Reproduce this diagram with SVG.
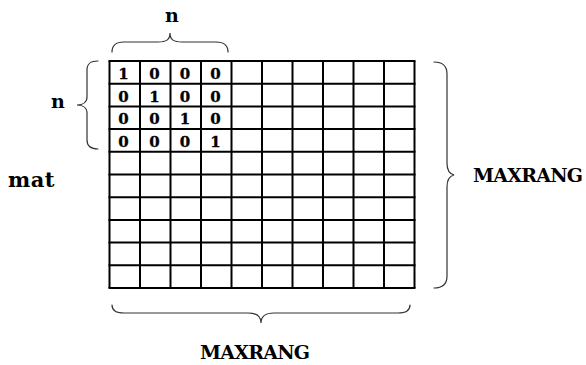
<svg xmlns="http://www.w3.org/2000/svg" width="586" height="365" viewBox="0 0 586 365">
  <style>
    .label { font-family: "DejaVu Serif", "Liberation Serif", serif; font-weight: bold; font-size: 19px; fill: #000; }
    .cell { font-family: "DejaVu Serif", "Liberation Serif", serif; font-weight: bold; font-size: 15px; fill: #000; stroke: #000; stroke-width: 0.3; text-anchor: middle; }
    .grid line { stroke: #000; stroke-width: 2; }
    .brace { fill: none; stroke: #333; stroke-width: 1.2; stroke-linecap: round; }
  </style>
  <rect width="586" height="365" fill="#fff"/>

  <!-- matrix grid: 10 x 10 cells -->
  <g id="matrix" class="grid">
    <line x1="109.5" y1="61" x2="109.5" y2="288"/>
    <line x1="140" y1="61" x2="140" y2="288"/>
    <line x1="170.5" y1="61" x2="170.5" y2="288"/>
    <line x1="201" y1="61" x2="201" y2="288"/>
    <line x1="231.5" y1="61" x2="231.5" y2="288"/>
    <line x1="262" y1="61" x2="262" y2="288"/>
    <line x1="292.5" y1="61" x2="292.5" y2="288"/>
    <line x1="323" y1="61" x2="323" y2="288"/>
    <line x1="353.5" y1="61" x2="353.5" y2="288"/>
    <line x1="384" y1="61" x2="384" y2="288"/>
    <line x1="414.5" y1="61" x2="414.5" y2="288"/>
    <line x1="108.5" y1="61" x2="415.5" y2="61"/>
    <line x1="108.5" y1="83.7" x2="415.5" y2="83.7"/>
    <line x1="108.5" y1="106.4" x2="415.5" y2="106.4"/>
    <line x1="108.5" y1="129.1" x2="415.5" y2="129.1"/>
    <line x1="108.5" y1="151.8" x2="415.5" y2="151.8"/>
    <line x1="108.5" y1="174.5" x2="415.5" y2="174.5"/>
    <line x1="108.5" y1="197.2" x2="415.5" y2="197.2"/>
    <line x1="108.5" y1="219.9" x2="415.5" y2="219.9"/>
    <line x1="108.5" y1="242.6" x2="415.5" y2="242.6"/>
    <line x1="108.5" y1="265.3" x2="415.5" y2="265.3"/>
    <line x1="108.5" y1="288" x2="415.5" y2="288"/>
  </g>

  <!-- identity block n x n -->
  <g id="identity">
    <text class="cell" x="123.5" y="79">1</text>
    <text class="cell" x="154.5" y="79">0</text>
    <text class="cell" x="185" y="79">0</text>
    <text class="cell" x="215.5" y="79">0</text>
    <text class="cell" x="123.5" y="101.7">0</text>
    <text class="cell" x="154.5" y="101.7">1</text>
    <text class="cell" x="185" y="101.7">0</text>
    <text class="cell" x="215.5" y="101.7">0</text>
    <text class="cell" x="123.5" y="124.4">0</text>
    <text class="cell" x="154.5" y="124.4">0</text>
    <text class="cell" x="185" y="124.4">1</text>
    <text class="cell" x="215.5" y="124.4">0</text>
    <text class="cell" x="123.5" y="147.1">0</text>
    <text class="cell" x="154.5" y="147.1">0</text>
    <text class="cell" x="185" y="147.1">0</text>
    <text class="cell" x="215.5" y="147.1">1</text>
  </g>

  <!-- braces -->
  <g id="braces">
    <path class="brace" d="M112,52 C112,45 116,42 124,42 L158,42 C166,42 170,40 170,33 C170,40 174,42 182,42 L216,42 C224,42 228,45 228,52"/>
    <path class="brace" d="M98,61 C91,61 87,63 87,70 L87,97 C87,102 83,105 77,105 C83,105 87,108 87,113 L87,140 C87,146 91,149 98,149"/>
    <path class="brace" d="M434,62 C442,62 447,65 447,74 L447,163 C447,170 450,174 454,175 C450,176 447,180 447,187 L447,276 C447,285 442,288 434,288"/>
    <path class="brace" d="M112,305 C112,311 116,313 124,313 L248,313 C256,313 261,316 261,323 C261,316 266,313 274,313 L398,313 C406,313 410,311 410,305"/>
  </g>

  <!-- labels -->
  <g id="labels">
    <text class="label" x="172" y="22" text-anchor="middle">n</text>
    <text class="label" x="58" y="108" text-anchor="middle">n</text>
    <text class="label" x="8" y="187" style="font-size:21px; letter-spacing:0.5px">mat</text>
    <text class="label" x="473" y="182" textLength="110" lengthAdjust="spacing">MAXRANG</text>
    <text class="label" x="200" y="359" textLength="110" lengthAdjust="spacing">MAXRANG</text>
  </g>
</svg>
